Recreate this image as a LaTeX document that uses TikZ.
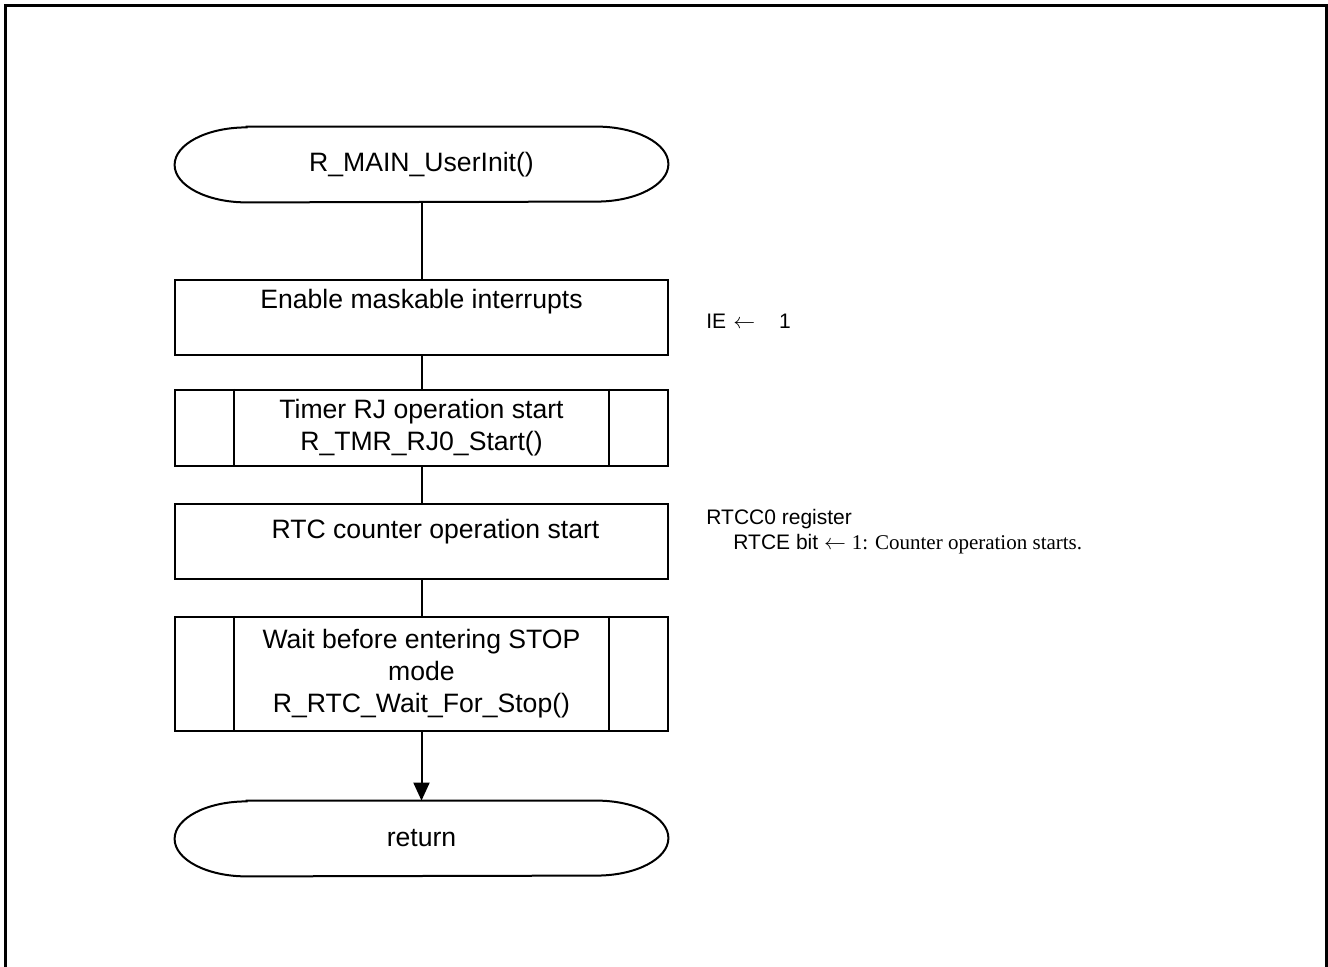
\documentclass[tikz,border=0pt]{standalone}
\usepackage{fontspec}
\setmainfont{Liberation Sans}
\newfontfamily\timesfont{Liberation Serif}
\usetikzlibrary{arrows.meta}

% flow chart shapes
\tikzset{
  flow/.style={draw=none, minimum width=246.5pt, inner sep=0pt,
    font=\fontsize{13.3pt}{16pt}\selectfont, align=center},
  procbox/.style={flow, draw, line width=1pt, minimum height=37.5pt},
  note/.style={anchor=base west, inner sep=0pt, align=left,
    font=\fontsize{10.5pt}{12.5pt}\selectfont},
  link/.style={line width=1pt},
}
% stadium with elliptic ends round a node
\newcommand{\drawterm}[1]{%
  \draw[link] ([xshift=36pt]#1.north west) -- ([xshift=-36pt]#1.north east)
    arc[start angle=90, end angle=-90, x radius=36pt, y radius=18.75pt]
    -- ([xshift=36pt]#1.south west)
    arc[start angle=270, end angle=90, x radius=36pt, y radius=18.75pt] -- cycle;}
% side bars of a sub routine box
\newcommand{\drawsub}[1]{%
  \draw[link] ([xshift=30pt]#1.north west) -- ([xshift=30pt]#1.south west);
  \draw[link] ([xshift=-30pt]#1.north east) -- ([xshift=-30pt]#1.south east);}

\begin{document}
\begin{tikzpicture}[x=0.5pt, y=0.5pt]
% Parameters
\def\cx{421.5}

% Frame
\useasboundingbox (0,0) rectangle (1328,-967);
\draw[line width=1.5pt] (5,-967) -- (5,-6) -- (1326,-6) -- (1326,-967);

% Nodes
\node[flow, minimum height=37.5pt] (start) at (\cx,-164.5) {R\_MAIN\_UserInit()};
\node[procbox, text height=14.5pt, text depth=23pt] (ie) at (\cx,-317.5)
  {Enable maskable interrupts};
\node[procbox, minimum height=38pt] (tmr) at (\cx,-428)
  {Timer RJ operation start\\R\_TMR\_RJ0\_Start()};
\node[procbox, text height=17.5pt, text depth=20pt] (rtc) at (\cx,-541.5)
  {\hspace*{14pt}RTC counter operation start};
\node[procbox, minimum height=57pt] (wait) at (\cx,-674)
  {Wait before entering STOP\\mode\\R\_RTC\_Wait\_For\_Stop()};
\node[flow, minimum height=37.5pt] (ret) at (\cx,-838.5) {return};

\drawterm{start}
\drawterm{ret}
\drawsub{tmr}
\drawsub{wait}

% Connectors
\draw[link] (start.south) -- (ie.north);
\draw[link] (ie.south) -- (tmr.north);
\draw[link] (tmr.south) -- (rtc.north);
\draw[link] (rtc.south) -- (wait.north);
\draw[link, -{Triangle[length=9pt, width=8pt]}] (wait.south) -- (ret.north);

% Notes
\node[note] (ienote) at (706,-329) {IE\,\,$\leftarrow$\hspace{12pt}1};
\node[note] (rtcnote) at (706,-550)
  {RTCC0 register\\\hspace*{13.5pt}RTCE bit $\leftarrow$
   {\timesfont 1: Counter operation starts.}};
\end{tikzpicture}
\end{document}
